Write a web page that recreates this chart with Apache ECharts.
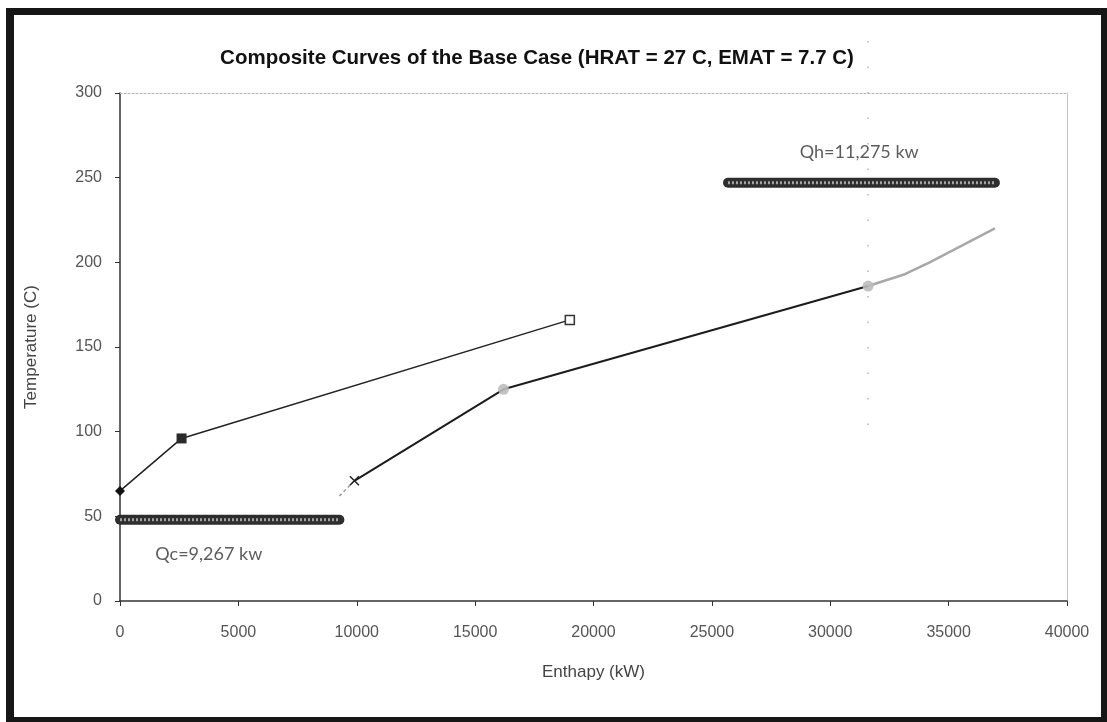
<!DOCTYPE html>
<html>
<head>
<meta charset="utf-8">
<script src="https://cdn.jsdelivr.net/npm/echarts@6/dist/echarts.min.js"></script>
<style>
  html, body { margin: 0; padding: 0; background: #fff; }
  #chart { position: absolute; left: 0; top: 0; width: 1107px; height: 722px; }
  #frame {
    position: absolute; left: 6px; top: 8px; right: 0; bottom: 0;
    border-left: 8px solid #161616; border-top: 7px solid #161616;
    border-right: 6px solid #161616; border-bottom: 5px solid #161616;
    pointer-events: none;
  }
</style>
</head>
<body>
<div id="chart"></div>
<div id="frame"></div>
<script>
// Composite curves: enthalpy (kW) vs temperature (C)
const hotEnthalpy = [0, 2600, 19000];
const hotTemp = [65, 96, 166];

const coldLeadEnthalpy = [9267, 9900];
const coldLeadTemp = [62, 71];
const coldEnthalpy = [9900, 16200, 31600];
const coldTemp = [71, 125, 186];
const coldTailEnthalpy = [31600, 33150, 34200, 36955];
const coldTailTemp = [186, 193, 200, 220];

// Utility targets
const qc = 9267;      // cold utility, kW
const qh = 11275;     // hot utility, kW
const qcLevel = 48;
const qhLevel = 247;
const pinchEnthalpy = 31600;
const pinchSpan = [104, 343];

const xTicks = [0, 5000, 10000, 15000, 20000, 25000, 30000, 35000, 40000];
const yTicks = [0, 50, 100, 150, 200, 250, 300];

const zip = (xs, ys) => xs.map((x, i) => [x, ys[i]]);
const coldEnd = coldTailEnthalpy[coldTailEnthalpy.length - 1];

const chart = echarts.init(document.getElementById('chart'));
const labelFont = 'Liberation Sans, Arial, sans-serif';
const noteFont = 'Lato, Open Sans, sans-serif';

function barSeries(p0, p1) {
  return [
    { type: 'line', data: [p0, p1], symbol: 'none', silent: true, z: 3,
      lineStyle: { color: '#2e2e2e', width: 10, cap: 'round' } },
    { type: 'line', data: [p0, p1], symbol: 'none', silent: true, z: 4,
      lineStyle: { color: '#a3a3a3', width: 3, type: [2, 2] } }
  ];
}

chart.setOption({
  animation: false,
  title: {
    text: 'Composite Curves of the Base Case (HRAT = 27 C, EMAT = 7.7 C)',
    left: 532, top: 43, textAlign: 'center',
    textStyle: { fontFamily: labelFont, fontSize: 20.5, fontWeight: 'bold', color: '#111' }
  },
  grid: { left: 120, right: 40, top: 93, bottom: 121 },
  xAxis: [{
    type: 'value', min: xTicks[0], max: xTicks[xTicks.length - 1], interval: 5000,
    name: 'Enthapy (kW)', nameLocation: 'middle', nameGap: 63,
    nameTextStyle: { fontFamily: labelFont, fontSize: 17, color: '#444' },
    axisLine: { lineStyle: { color: '#333', width: 1.5 } },
    axisTick: { show: true, length: 5, lineStyle: { color: '#333' } },
    axisLabel: { fontFamily: labelFont, fontSize: 16, color: '#555', margin: 24,
                 formatter: v => String(v) },
    splitLine: { show: false }
  }, {
    type: 'value', position: 'top', min: 0, max: 40000,
    axisLine: { show: true, onZero: false, lineStyle: { color: '#b5b5b5', type: [2, 2], width: 1 } },
    axisTick: { show: false }, axisLabel: { show: false }, splitLine: { show: false }
  }],
  yAxis: [{
    type: 'value', min: yTicks[0], max: yTicks[yTicks.length - 1], interval: 50,
    name: 'Temperature (C)', nameLocation: 'middle', nameGap: 80, nameRotate: 90,
    nameTextStyle: { fontFamily: labelFont, fontSize: 17, color: '#444' },
    axisLine: { show: true, lineStyle: { color: '#333', width: 1.5 } },
    axisTick: { show: true, length: 5, lineStyle: { color: '#333' } },
    axisLabel: { fontFamily: labelFont, fontSize: 16, color: '#555', margin: 18 },
    splitLine: { show: false }
  }, {
    type: 'value', position: 'right', min: 0, max: 300,
    axisLine: { show: true, onZero: false, lineStyle: { color: '#c4c4c4', width: 1 } },
    axisTick: { show: false }, axisLabel: { show: false }, splitLine: { show: false }
  }],
  series: [
    // hot composite
    { type: 'line', z: 5,
      lineStyle: { color: '#222', width: 1.5 },
      data: [
        { value: [hotEnthalpy[0], hotTemp[0]], symbol: 'diamond', symbolSize: 10, itemStyle: { color: '#111' } },
        { value: [hotEnthalpy[1], hotTemp[1]], symbol: 'rect', symbolSize: 10, itemStyle: { color: '#2a2a2a' } },
        { value: [hotEnthalpy[2], hotTemp[2]], symbol: 'rect', symbolSize: 9, itemStyle: { color: '#fff', borderColor: '#333', borderWidth: 1.5 } }
      ] },
    // cold composite, leading section
    { type: 'line', data: zip(coldLeadEnthalpy, coldLeadTemp), symbol: 'none', z: 5,
      lineStyle: { color: '#9a9a9a', width: 1.5, type: [3, 3] } },
    // cold composite, main section
    { type: 'line', z: 5,
      lineStyle: { color: '#1c1c1c', width: 2 },
      data: [
        { value: [coldEnthalpy[0], coldTemp[0]],
          symbol: 'path://M0,0L10,10M10,0L0,10', symbolSize: 9,
          itemStyle: { color: 'none', borderColor: '#222', borderWidth: 1.5 } },
        { value: [coldEnthalpy[1], coldTemp[1]], symbol: 'circle', symbolSize: 11,
          itemStyle: { color: '#bdbdbd', opacity: 0.9 } },
        { value: [coldEnthalpy[2], coldTemp[2]], symbol: 'circle', symbolSize: 11,
          itemStyle: { color: '#bdbdbd', opacity: 0.9 } }
      ] },
    // cold composite, above the pinch
    { type: 'line', data: zip(coldTailEnthalpy, coldTailTemp), symbol: 'none', z: 4,
      lineStyle: { color: '#a8a8a8', width: 2.5 } },
    // pinch marker
    { type: 'line', data: [[pinchEnthalpy, pinchSpan[0]], [pinchEnthalpy, pinchSpan[1]]],
      symbol: 'none', clip: false, z: 2, silent: true,
      lineStyle: { color: '#9a9a9a', width: 1.5, type: [1.5, 24], opacity: 0.7 } },
    // utilities
    ...barSeries([0, qcLevel], [qc, qcLevel]),
    ...barSeries([coldEnd - qh, qhLevel], [coldEnd, qhLevel]),
    // utility annotations
    { type: 'scatter', symbolSize: 0, silent: true, z: 6,
      label: { show: true, position: 'inside', fontFamily: noteFont, fontSize: 18, color: '#333',
               formatter: p => p.data.text },
      data: [
        { value: [31225, 265], text: 'Qh=' + qh.toLocaleString('en-US') + ' kw' },
        { value: [3750, 27.5], text: 'Qc=' + qc.toLocaleString('en-US') + ' kw' }
      ] }
  ]
});
</script>
</body>
</html>
